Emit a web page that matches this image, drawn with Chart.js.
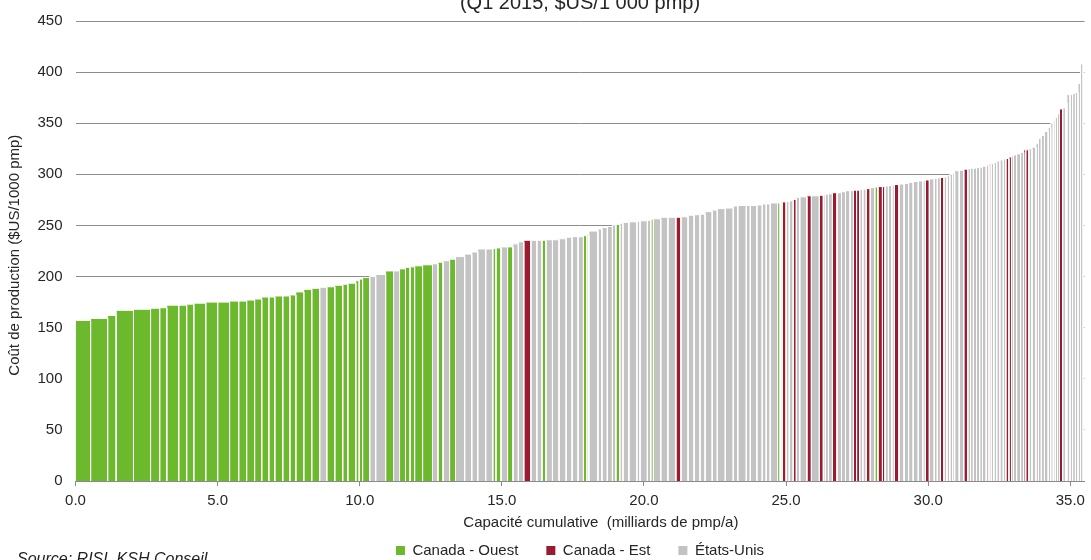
<!DOCTYPE html>
<html>
<head>
<meta charset="utf-8">
<script src="https://cdn.jsdelivr.net/npm/chart.js@4/dist/chart.umd.min.js"></script>
<style>
    html, body { margin: 0; padding: 0; background: #fff; overflow: hidden; width: 1091px; height: 560px; }
    #wrap { position: absolute; left: 0; top: -10px; width: 1091px; height: 580px; }
    #source { position: absolute; left: 17px; top: 550px; font: italic 16px "Liberation Sans", Arial, sans-serif; color: #222; white-space: nowrap; }
</style>
</head>
<body>
<div id="wrap"><canvas id="costChart"></canvas></div>
<div id="source">Source: RISI, KSH Conseil</div>
<script>
// capacity of each mill (billions pmp/a), sorted by cost
const capacity = [
    0.53, 0.60, 0.30, 0.61, 0.60, 0.32, 0.25, 0.42, 0.28, 0.25, 0.42, 0.42, 0.42, 0.32, 0.28,
    0.28, 0.25, 0.25, 0.21, 0.28, 0.25, 0.21, 0.28, 0.28, 0.28, 0.25, 0.28, 0.28, 0.18, 0.28,
    0.12, 0.12, 0.25, 0.21, 0.35, 0.28, 0.21, 0.21, 0.16, 0.16,
    0.28, 0.35, 0.19, 0.18, 0.23, 0.21, 0.32, 0.25, 0.21, 0.28, 0.25, 0.11, 0.18, 0.23, 0.19,
    0.19, 0.19, 0.25, 0.21, 0.18, 0.14, 0.23, 0.23, 0.25, 0.21, 0.21, 0.19, 0.12, 0.07,
    0.32, 0.14, 0.19, 0.18, 0.12, 0.14, 0.11, 0.21, 0.28, 0.11, 0.26, 0.12, 0.09, 0.26, 0.25,
    0.28, 0.18, 0.25, 0.21, 0.21, 0.18, 0.25, 0.18, 0.28, 0.28, 0.16, 0.30, 0.14, 0.23,
    0.19, 0.14, 0.14, 0.26, 0.09, 0.07, 0.14, 0.11, 0.14, 0.11, 0.12, 0.25, 0.16, 0.28, 0.14,
    0.07, 0.11, 0.14, 0.16, 0.16, 0.14, 0.16, 0.12, 0.11, 0.11, 0.11, 0.12, 0.14, 0.16, 0.11,
    0.16, 0.09, 0.12, 0.12, 0.09, 0.16, 0.18, 0.16, 0.16, 0.18, 0.16,
    0.09, 0.14, 0.17, 0.11, 0.11, 0.12, 0.11, 0.10, 0.10, 0.07, 0.16, 0.16, 0.14, 0.10, 0.10,
    0.11, 0.11, 0.10, 0.13, 0.10, 0.07, 0.10, 0.10, 0.11, 0.12, 0.09, 0.11, 0.09, 0.07, 0.11,
    0.14, 0.11, 0.07, 0.11, 0.11, 0.14,
    0.09, 0.10, 0.11, 0.13, 0.09, 0.09, 0.07, 0.08, 0.07, 0.11, 0.10, 0.05, 0.11, 0.09, 0.10,
    0.09, 0.09, 0.09
];

// production cost ($US/1000 pmp)
const cost = [
    157, 159, 162, 167, 168, 169, 169.5, 172, 172, 173, 174, 175, 175, 176, 176,
    177, 178, 180, 180, 181, 181, 182, 185, 187.5, 188.5, 189.5, 190, 191.5, 192.5, 193.5,
    196, 197.5, 199, 200, 202, 205.5, 205.5, 207.5, 209, 209.5,
    210.5, 211.5, 212.5, 214, 215.5, 217, 219.5, 222, 224, 227, 227, 227.5, 228, 229, 229,
    232, 234, 235.5, 235.5, 235.5, 235.5, 236, 236, 237, 238.5, 239, 239, 240, 241,
    244.5, 246.5, 248, 249, 250.5, 251, 252, 253, 253.5, 254, 254.5, 255, 256, 256.5, 258,
    258, 258, 258.5, 260, 260.5, 261, 263.5, 265, 266.5, 267, 269, 269.5, 269.5, 269.5,
    270, 271, 271, 272, 272, 272.5, 273, 273.5, 274, 275.5, 277.5, 278, 279, 279, 279.5,
    280, 280.5, 281, 282, 282, 283, 284, 284, 284.5, 284.5, 285, 285.5, 286, 287, 287.5,
    288, 288, 288.5, 289, 289.5, 290, 290.5, 291, 292, 293, 293.5,
    294, 294.5, 295.5, 296, 296.5, 297, 297.5, 298.5, 300, 301, 303.5, 304, 305, 305.5, 306,
    306, 306.5, 307, 308, 309, 310, 310.5, 311.5, 313, 314, 315, 315.5, 317, 318, 319,
    320, 321.5, 324, 324, 325, 326.5,
    330, 335, 338, 342, 346, 350, 353, 355.5, 359, 364, 365, 370, 378, 378, 379,
    380, 389, 408
];

// W = Canada - Ouest, E = Canada - Est, U = États-Unis
const region = (
    'WWWWWWWWWWWWWWWWWWWWWWWWW' + 'U' + 'WWWWWWW' + 'UU' + 'W' + 'U' + 'WWWWW' + 'U' + 'W' + 'U' + 'W' +
    'UUUUU' + 'WW' + 'U' + 'W' + 'UU' + 'E' + 'UU' + 'W' + 'UUUUUU' + 'WW' + 'UUUUU' + 'W' + 'UUUUUU' +
    'W' + 'UUU' + 'E' + 'UUUUUUUUUUUUUUUU' + 'W' + 'U' + 'E' + 'UU' + 'E' + 'UU' + 'E' + 'U' + 'E' +
    'UUU' + 'E' + 'UUUU' + 'EE' + 'UU' + 'E' + 'U' + 'W' + 'EE' + 'UUU' + 'E' + 'UUUUUU' + 'E' + 'UUU' +
    'E' + 'UUUUUU' + 'E' + 'UUUUUUU' + 'E' + 'UUUUU' + 'EE' + 'UUUU' + 'EE' + 'UUUUUUUUUUU' + 'E' + 'UUUUUUUU'
).split('');

const regionNames = ['Canada - Ouest', 'Canada - Est', 'États-Unis'];
const regionCodes = ['W', 'E', 'U'];
const xTicks = { min: 0, max: 35.5, step: 5 };
const yTicks = { min: 0, max: 450, step: 50 };

const colors = { W: '#6cb92d', E: '#9a1a30', U: '#c3c3c3' };
const font = { family: '"Liberation Sans", Arial, sans-serif', size: 15 };
const textColor = '#262626';

function buildMillDatasets() {
    let x0 = 0;
    return capacity.map((w, i) => {
        const x1 = x0 + w;
        const ds = {
            label: '',
            data: [{ x: x0, y: 0 }, { x: x0, y: cost[i] }, { x: x1, y: cost[i] }, { x: x1, y: 0 }],
            showLine: true,
            fill: 'origin',
            backgroundColor: colors[region[i]] || colors.U,
            borderColor: '#ffffff',
            borderWidth: 1,
            pointRadius: 0,
            tension: 0
        };
        x0 = x1;
        return ds;
    });
}

function buildLegendDatasets() {
    return regionCodes.map((code, i) => ({
        label: regionNames[i],
        data: [],
        backgroundColor: colors[code],
        borderColor: colors[code],
        borderWidth: 0
    }));
}

function renderChart() {
    const ctx = document.getElementById('costChart');
    return new Chart(ctx, {
        type: 'scatter',
        data: {
            datasets: [...buildLegendDatasets(), ...buildMillDatasets()]
        },
        options: {
            responsive: true,
            maintainAspectRatio: false,
            animation: false,
            events: [],
            layout: { padding: { left: 0, right: 4, top: 0, bottom: 2 } },
            plugins: {
                title: {
                    display: true,
                    text: '(Q1 2015, $US/1 000 pmp)',
                    fullSize: false,
                    color: textColor,
                    font: { family: font.family, size: 20, weight: 'normal' },
                    padding: { top: 1, bottom: 6 }
                },
                legend: {
                    position: 'bottom',
                    fullSize: false,
                    labels: {
                        filter: item => item.datasetIndex < regionCodes.length,
                        boxWidth: 9,
                        boxHeight: 9,
                        padding: 28,
                        color: textColor,
                        font
                    }
                },
                tooltip: { enabled: false }
            },
            scales: {
                x: {
                    type: 'linear',
                    min: xTicks.min,
                    max: xTicks.max,
                    ticks: {
                        stepSize: xTicks.step,
                        includeBounds: false,
                        maxRotation: 0,
                        padding: 6,
                        color: textColor,
                        font,
                        callback: v => v.toFixed(1)
                    },
                    grid: { drawOnChartArea: false, drawTicks: true, tickLength: 5, color: '#8a8a8a' },
                    border: { color: '#8a8a8a' },
                    title: {
                        display: true,
                        text: '          Capacité cumulative  (milliards de pmp/a)',
                        color: textColor,
                        font,
                        padding: { top: 0, bottom: -17 }
                    },
                    afterFit: scale => { scale.height = 34; }
                },
                y: {
                    min: yTicks.min,
                    max: yTicks.max,
                    ticks: { stepSize: yTicks.step, padding: 13, color: textColor, font },
                    grid: { color: '#8c8c8c', drawTicks: false },
                    border: { display: false },
                    title: {
                        display: true,
                        text: 'Coût de production ($US/1000 pmp)  ',
                        color: textColor,
                        font,
                        padding: { top: 6, bottom: 0 }
                    },
                    afterFit: scale => { scale.width = 75.5; }
                }
            }
        }
    });
}

renderChart();
</script>
</body>
</html>
